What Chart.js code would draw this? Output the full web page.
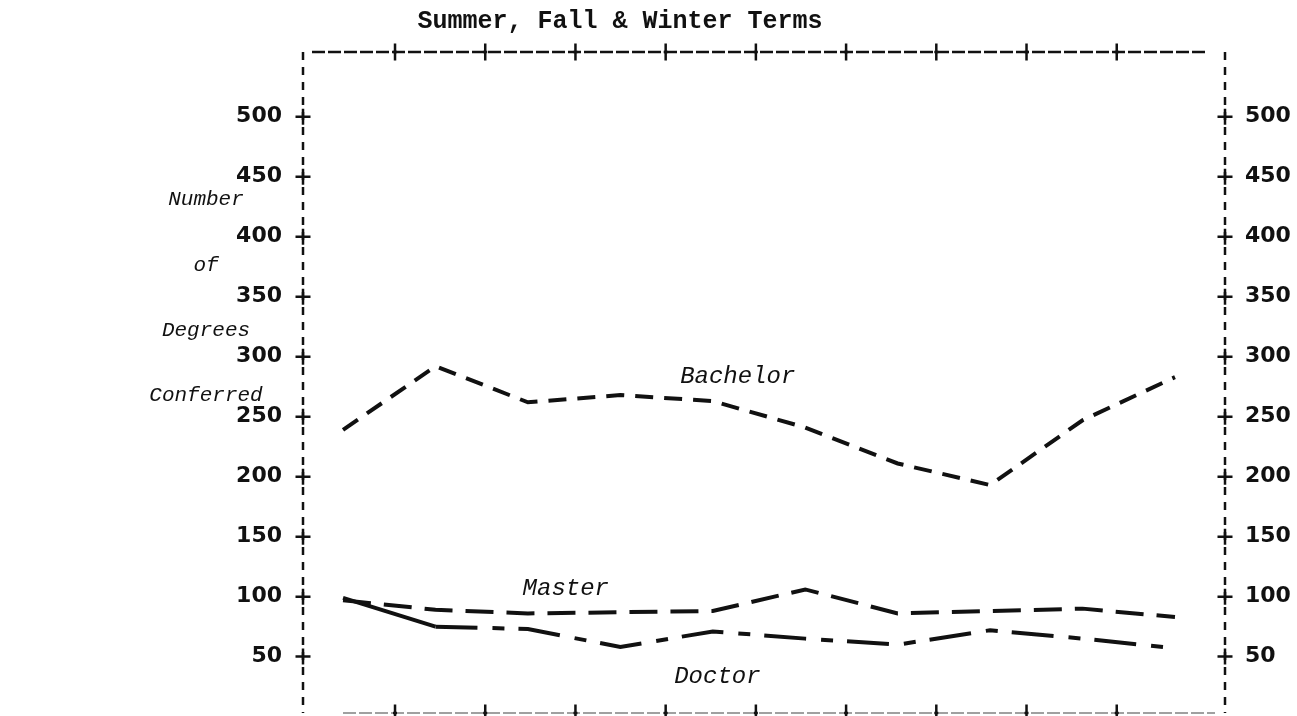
<!DOCTYPE html>
<html>
<head>
<meta charset="utf-8">
<title>Degrees Conferred - Summer, Fall & Winter Terms</title>
<script src="https://cdn.jsdelivr.net/npm/chart.js@4/dist/chart.umd.min.js"></script>
<style>
  html, body { margin: 0; padding: 0; background: #ffffff; }
  #wrap { width: 1297px; height: 716px; }
</style>
</head>
<body>
<div id="wrap"><canvas id="degreesChart" width="1297" height="716"></canvas></div>
<script>
// Term positions along the x axis (the original prints no labels under them)
const terms = [0, 1, 2, 3, 4, 5, 6, 7, 8, 9];

// Degrees conferred per term
const bachelor = [239, 292, 262, 268, 263, 241, 211, 193, 247, 283];
const master   = [97, 89, 86, 87, 88, 106, 86, 88, 90, 83];
const doctor   = [99, 75, 73, 58, 71, 65, 60, 72, 65, 57];

// Tick labels on both side axes, and the "+" marks on the top/bottom frame
const yTicks = [50, 100, 150, 200, 250, 300, 350, 400, 450, 500];
const frameTicks = [1, 2, 3, 4, 5, 6, 7, 8, 9];

const chartTitle = 'Summer, Fall & Winter Terms';
const sideLabel = ['Number', 'of', 'Degrees', 'Conferred'];

// Where each series name sits, in data units [term, degrees]
const seriesNames = ['Bachelor', 'Master', 'Doctor'];
const seriesNameAt = [[4.27, 283], [2.41, 107], [4.05, 33]];

const INK = '#111111';

function toPoints(values) {
  return values.map((v, i) => ({ x: terms[i], y: v }));
}

// -------------------------------------------------------------------------
// Plugin: dashed typewriter frame, "+" marks and the free-standing text
// -------------------------------------------------------------------------
const typewriterMarks = {
  id: 'typewriterMarks',
  beforeDatasetsDraw(chart) {
    const { ctx, chartArea: a } = chart;
    ctx.save();
    ctx.lineCap = 'butt';

    // top rule: long dashes, tiny gaps
    ctx.strokeStyle = INK;
    ctx.lineWidth = 2.5;
    ctx.setLineDash([13, 3]);
    ctx.beginPath();
    ctx.moveTo(a.left + 9, a.top);
    ctx.lineTo(a.right - 17, a.top);
    ctx.stroke();

    // bottom rule, faint on the scan
    ctx.strokeStyle = '#a0a0a0';
    ctx.lineWidth = 2;
    ctx.beginPath();
    ctx.moveTo(a.left + 40, a.bottom);
    ctx.lineTo(a.right - 10, a.bottom);
    ctx.stroke();

    // side rules: short broken strokes
    ctx.strokeStyle = INK;
    ctx.lineWidth = 2.5;
    ctx.setLineDash([8, 7]);
    ctx.beginPath();
    ctx.moveTo(a.left, a.top);
    ctx.lineTo(a.left, a.bottom);
    ctx.moveTo(a.right, a.top);
    ctx.lineTo(a.right, a.bottom);
    ctx.stroke();
    ctx.restore();
  },
  afterDraw(chart) {
    const { ctx, chartArea: a, scales } = chart;
    ctx.save();
    ctx.strokeStyle = INK;
    ctx.lineWidth = 2.5;

    const cross = (x, y, w, h) => {
      ctx.beginPath();
      ctx.moveTo(x - w / 2, y);
      ctx.lineTo(x + w / 2, y);
      ctx.moveTo(x, y - h / 2);
      ctx.lineTo(x, y + h / 2);
      ctx.stroke();
    };

    yTicks.forEach(v => {
      const py = scales.y.getPixelForValue(v);
      cross(a.left, py, 15, 16);
      cross(a.right, py, 15, 16);
    });

    frameTicks.forEach(v => {
      const px = scales.xt.getPixelForValue(v);
      cross(px, a.top, 4, 17);
      cross(px, a.bottom, 4, 17);
    });

    ctx.fillStyle = INK;
    ctx.textAlign = 'center';
    ctx.textBaseline = 'middle';

    // title
    ctx.font = 'bold 25px "Liberation Mono", "DejaVu Sans Mono", monospace';
    ctx.fillText(chartTitle, 620, 22);

    // y axis caption, one word per line
    ctx.font = 'italic 21px "Liberation Mono", "DejaVu Sans Mono", monospace';
    const captionY = [199, 265, 330, 395];
    sideLabel.forEach((word, i) => ctx.fillText(word, 206, captionY[i]));

    // series names next to their lines
    ctx.font = 'italic 24px "Liberation Mono", "DejaVu Sans Mono", monospace';
    seriesNames.forEach((name, i) => {
      const [tx, ty] = seriesNameAt[i];
      ctx.fillText(name, scales.x.getPixelForValue(tx), scales.y.getPixelForValue(ty));
    });

    ctx.restore();
  }
};

// -------------------------------------------------------------------------
// Axes
// -------------------------------------------------------------------------
const Y_MIN = 3;
const Y_MAX = 554;

const tickFont = { family: 'DejaVu Sans', size: 22, weight: 'bold' };

function sideAxis(position, width, padding) {
  return {
    type: 'linear',
    position: position,
    min: Y_MIN,
    max: Y_MAX,
    afterBuildTicks: s => { s.ticks = yTicks.map(v => ({ value: v })); },
    afterFit: s => {
      s.width = width;
      s.paddingTop = 0;
      s.paddingBottom = 0;
    },
    grid: { display: false, drawTicks: false },
    border: { display: false },
    ticks: {
      color: INK,
      font: tickFont,
      padding: padding,
      callback: v => String(v)
    }
  };
}

new Chart(document.getElementById('degreesChart'), {
  type: 'line',
  data: {
    datasets: [
      {
        label: 'Bachelor',
        data: toPoints(bachelor),
        borderColor: INK,
        borderWidth: 4,
        borderDash: [18, 11],
        pointRadius: 0,
        tension: 0
      },
      {
        label: 'Master',
        data: toPoints(master),
        borderColor: INK,
        borderWidth: 4,
        borderDash: [28, 13],
        pointRadius: 0,
        tension: 0
      },
      {
        label: 'Doctor',
        data: toPoints(doctor),
        borderColor: INK,
        borderWidth: 4,
        borderDash: [42, 15, 12, 14],
        pointRadius: 0,
        tension: 0,
        segment: {
          borderDash: c => (c.p0DataIndex === 0 ? [] : undefined)
        }
      }
    ]
  },
  options: {
    responsive: false,
    animation: false,
    devicePixelRatio: 1,
    layout: { padding: 0 },
    plugins: {
      legend: { display: false },
      title: { display: false },
      tooltip: { enabled: false }
    },
    scales: {
      x: {
        type: 'linear',
        position: 'bottom',
        min: -0.433,
        max: 9.541,
        afterFit: s => { s.height = 3; },
        grid: { display: false, drawTicks: false },
        ticks: { display: false },
        border: { display: false }
      },
      xt: {
        type: 'linear',
        position: 'top',
        min: -0.02,
        max: 10.2,
        afterBuildTicks: s => { s.ticks = frameTicks.map(v => ({ value: v })); },
        afterFit: s => { s.height = 52; },
        grid: { display: false, drawTicks: false },
        ticks: { display: false },
        border: { display: false }
      },
      y: sideAxis('left', 303, 21),
      y2: sideAxis('right', 72, 20)
    }
  },
  plugins: [typewriterMarks]
});
</script>
</body>
</html>
